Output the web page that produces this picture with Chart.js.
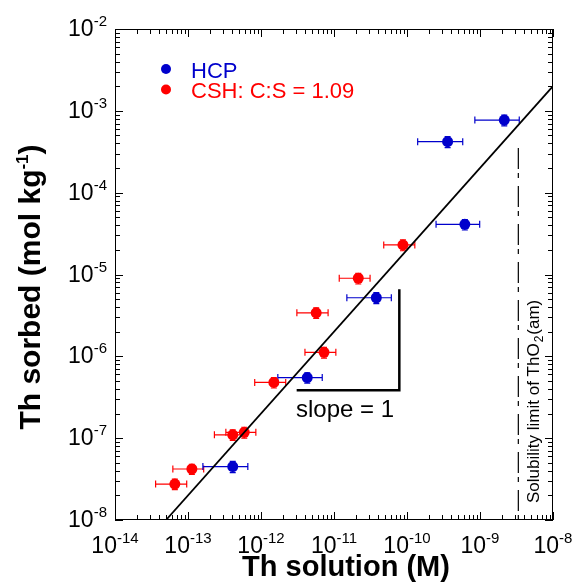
<!DOCTYPE html>
<html>
<head>
    <title>Th sorption</title>
    <script src="https://cdn.jsdelivr.net/npm/chart.js"></script>
    <style>
        body {
            margin: 0;
            background: #ffffff;
        }
        #th-chart {
            display: block;
        }
    </style>
</head>
<body>
    <canvas id="th-chart" width="572" height="582"></canvas>

    <script>
        // CSH (C:S = 1.09) data: Th solution (M) vs Th sorbed (mol/kg)
        const cshX = [6.6e-14, 1.13e-13, 4.1e-13, 5.9e-13, 1.5e-12, 7.3e-12, 5.7e-12, 2.15e-11, 8.8e-11];
        const cshY = [2.75e-8, 4.2e-8, 1.1e-7, 1.18e-7, 4.8e-7, 1.12e-6, 3.4e-6, 9.0e-6, 2.3e-5];
        const cshXErr = [3.0e-14, 5.1e-14, 1.8e-13, 2.6e-13, 6.8e-13, 3.3e-12, 2.6e-12, 9.7e-12, 4.0e-11];
        const cshYErr = [4e-9, 6e-9, 1.6e-8, 1.8e-8, 7e-8, 1.7e-7, 5e-7, 1.35e-6, 3.5e-6];

        // HCP data
        const hcpX = [4.1e-13, 4.3e-12, 3.8e-11, 6.2e-10, 3.6e-10, 2.15e-9];
        const hcpY = [4.5e-8, 5.5e-7, 5.2e-6, 4.1e-5, 4.2e-4, 7.7e-4];
        const hcpXErr = [2.5e-13, 2.6e-12, 2.3e-11, 3.7e-10, 2.2e-10, 1.3e-9];
        const hcpYErr = [7e-9, 8e-8, 8e-7, 6e-6, 6.5e-5, 1.15e-4];

        // fitted line (slope 1)
        const fitX = [5e-14, 1e-8];
        const fitY = [1e-8, 2e-3];

        // slope triangle
        const slopeX = [3.08e-12, 7.85e-11, 7.85e-11];
        const slopeY = [3.86e-7, 3.86e-7, 6.6e-6];

        // solubility limit of ThO2(am)
        const solX = [3.35e-9, 3.35e-9];
        const solY = [1e-8, 3.6e-4];

        // decade tick exponents
        const xTickExps = [-14, -13, -12, -11, -10, -9, -8];
        const yTickExps = [-8, -7, -6, -5, -4, -3, -2];

        const BLUE = '#0000cc';
        const RED = '#ff0000';

        function pts(xs, ys) {
            return xs.map((x, i) => ({ x: x, y: ys[i] }));
        }

        // error bars under the markers
        const errorBars = {
            id: 'errorBars',
            beforeDatasetsDraw(chart) {
                const ctx = chart.ctx;
                const xs = chart.scales.x, ys = chart.scales.y;
                const sets = [
                    [cshX, cshY, cshXErr, cshYErr, RED],
                    [hcpX, hcpY, hcpXErr, hcpYErr, BLUE]
                ];
                ctx.save();
                ctx.lineWidth = 1.2;
                sets.forEach(([X, Y, XE, YE, col]) => {
                    ctx.strokeStyle = col;
                    X.forEach((x, i) => {
                        const px = xs.getPixelForValue(x);
                        const py = ys.getPixelForValue(Y[i]);
                        const x0 = xs.getPixelForValue(x - XE[i]);
                        const x1 = xs.getPixelForValue(x + XE[i]);
                        const y0 = ys.getPixelForValue(Y[i] - YE[i]);
                        const y1 = ys.getPixelForValue(Y[i] + YE[i]);
                        ctx.beginPath();
                        ctx.moveTo(x0, py); ctx.lineTo(x1, py);
                        ctx.moveTo(x0, py - 3.5); ctx.lineTo(x0, py + 3.5);
                        ctx.moveTo(x1, py - 3.5); ctx.lineTo(x1, py + 3.5);
                        ctx.moveTo(px, y0); ctx.lineTo(px, y1);
                        ctx.moveTo(px - 3, y0); ctx.lineTo(px + 3, y0);
                        ctx.moveTo(px - 3, y1); ctx.lineTo(px + 3, y1);
                        ctx.stroke();
                    });
                });
                ctx.restore();
            }
        };

        // frame, inward ticks, labels, legend and notes
        const decor = {
            id: 'decor',
            afterDraw(chart) {
                const ctx = chart.ctx;
                const a = chart.chartArea;
                const xs = chart.scales.x, ys = chart.scales.y;
                ctx.save();
                ctx.strokeStyle = '#000';
                ctx.lineWidth = 1;
                ctx.strokeRect(a.left + 0.5, a.top + 0.5, a.right - a.left - 1, a.bottom - a.top - 1);

                ctx.beginPath();
                for (let e = -14; e < -8; e++) {
                    for (let m = 1; m <= 10; m++) {
                        const v = m * Math.pow(10, e);
                        const p = Math.round(xs.getPixelForValue(v)) + 0.5;
                        const len = (m === 1 || m === 10) ? 8 : 5;
                        ctx.moveTo(p, a.bottom); ctx.lineTo(p, a.bottom - len);
                        ctx.moveTo(p, a.top); ctx.lineTo(p, a.top + len);
                    }
                }
                for (let e = -8; e < -2; e++) {
                    for (let m = 1; m <= 10; m++) {
                        const v = m * Math.pow(10, e);
                        const p = Math.round(ys.getPixelForValue(v)) + 0.5;
                        const len = (m === 1 || m === 10) ? 8 : 5;
                        ctx.moveTo(a.left, p); ctx.lineTo(a.left + len, p);
                        ctx.moveTo(a.right, p); ctx.lineTo(a.right - len, p);
                    }
                }
                ctx.stroke();

                // tick labels 10^n
                const baseFont = '23px Arial, "Liberation Sans", sans-serif';
                const expFont = '15px Arial, "Liberation Sans", sans-serif';
                ctx.fillStyle = '#000';
                ctx.textAlign = 'left';
                ctx.textBaseline = 'alphabetic';
                xTickExps.forEach(e => {
                    const p = xs.getPixelForValue(Math.pow(10, e));
                    ctx.font = baseFont;
                    const w1 = ctx.measureText('10').width;
                    ctx.font = expFont;
                    const w2 = ctx.measureText(String(e)).width;
                    const x0 = p - (w1 + w2) / 2;
                    ctx.font = baseFont;
                    ctx.fillText('10', x0, 553);
                    ctx.font = expFont;
                    ctx.fillText(String(e), x0 + w1, 543);
                });
                yTickExps.forEach(e => {
                    const p = ys.getPixelForValue(Math.pow(10, e));
                    ctx.font = expFont;
                    const w2 = ctx.measureText(String(e)).width;
                    ctx.font = baseFont;
                    const w1 = ctx.measureText('10').width;
                    const x0 = 107 - w1 - w2;
                    ctx.fillText('10', x0, p + 7);
                    ctx.font = expFont;
                    ctx.fillText(String(e), x0 + w1, p - 3);
                });

                // axis titles
                ctx.font = 'bold 29px Arial, "Liberation Sans", sans-serif';
                ctx.textAlign = 'center';
                ctx.fillText('Th solution (M)', 346, 576);

                ctx.save();
                ctx.translate(40, 287);
                ctx.rotate(-Math.PI / 2);
                const tMain = 'Th sorbed (mol kg';
                const tSup = '-1';
                const tEnd = ')';
                ctx.font = 'bold 30px Arial, "Liberation Sans", sans-serif';
                const wm = ctx.measureText(tMain).width;
                const we = ctx.measureText(tEnd).width;
                ctx.font = 'bold 17px Arial, "Liberation Sans", sans-serif';
                const ws = ctx.measureText(tSup).width;
                let sx = -(wm + ws + we) / 2;
                ctx.textAlign = 'left';
                ctx.font = 'bold 30px Arial, "Liberation Sans", sans-serif';
                ctx.fillText(tMain, sx, 0);
                ctx.font = 'bold 17px Arial, "Liberation Sans", sans-serif';
                ctx.fillText(tSup, sx + wm, -12);
                ctx.font = 'bold 30px Arial, "Liberation Sans", sans-serif';
                ctx.fillText(tEnd, sx + wm + ws, 0);
                ctx.restore();

                // legend
                ctx.textAlign = 'left';
                ctx.font = '22px Arial, "Liberation Sans", sans-serif';
                ctx.fillStyle = BLUE;
                ctx.beginPath(); ctx.arc(166, 69, 5, 0, Math.PI * 2); ctx.fill();
                ctx.fillText('HCP', 191, 77.5);
                ctx.fillStyle = RED;
                ctx.beginPath(); ctx.arc(166, 89.5, 5, 0, Math.PI * 2); ctx.fill();
                ctx.fillText('CSH: C:S = 1.09', 191, 98);

                // slope label
                ctx.fillStyle = '#000';
                ctx.font = '24px Arial, "Liberation Sans", sans-serif';
                ctx.fillText('slope = 1', 296, 417);

                // solubility note
                ctx.save();
                ctx.translate(539, 503);
                ctx.rotate(-Math.PI / 2);
                ctx.font = '17px Arial, "Liberation Sans", sans-serif';
                const s1 = 'Solubility limit of ThO';
                const w1s = ctx.measureText(s1).width;
                ctx.fillText(s1, 0, 0);
                ctx.font = '12px Arial, "Liberation Sans", sans-serif';
                ctx.fillText('2', w1s + 1, 4);
                const w2s = ctx.measureText('2').width;
                ctx.font = '17px Arial, "Liberation Sans", sans-serif';
                ctx.fillText('(am)', w1s + w2s + 2, 0);
                ctx.restore();

                ctx.restore();
            }
        };

        const ctx = document.getElementById('th-chart').getContext('2d');
        const thChart = new Chart(ctx, {
            type: 'scatter',
            data: {
                datasets: [
                    {
                        type: 'line',
                        data: pts(solX, solY),
                        borderColor: '#000',
                        borderWidth: 1.2,
                        borderDash: [5, 4, 21, 8],
                        pointRadius: 0,
                        fill: false
                    },
                    {
                        type: 'line',
                        data: pts(fitX, fitY),
                        borderColor: '#000',
                        borderWidth: 1.8,
                        pointRadius: 0,
                        fill: false
                    },
                    {
                        type: 'line',
                        data: pts(slopeX, slopeY),
                        borderColor: '#000',
                        borderWidth: 2.5,
                        pointRadius: 0,
                        fill: false,
                        tension: 0
                    },
                    {
                        label: 'CSH: C:S = 1.09',
                        data: pts(cshX, cshY),
                        backgroundColor: RED,
                        borderWidth: 0,
                        pointRadius: 5.5
                    },
                    {
                        label: 'HCP',
                        data: pts(hcpX, hcpY),
                        backgroundColor: BLUE,
                        borderWidth: 0,
                        pointRadius: 5.5
                    }
                ]
            },
            options: {
                responsive: false,
                animation: false,
                devicePixelRatio: 1,
                layout: {
                    padding: { left: 115, right: 19, top: 29, bottom: 62 }
                },
                plugins: {
                    legend: { display: false },
                    tooltip: { enabled: false }
                },
                scales: {
                    x: {
                        type: 'logarithmic',
                        min: 1e-14,
                        max: 1e-8,
                        display: false
                    },
                    y: {
                        type: 'logarithmic',
                        min: 1e-8,
                        max: 1e-2,
                        display: false
                    }
                }
            },
            plugins: [errorBars, decor]
        });
    </script>
</body>
</html>
